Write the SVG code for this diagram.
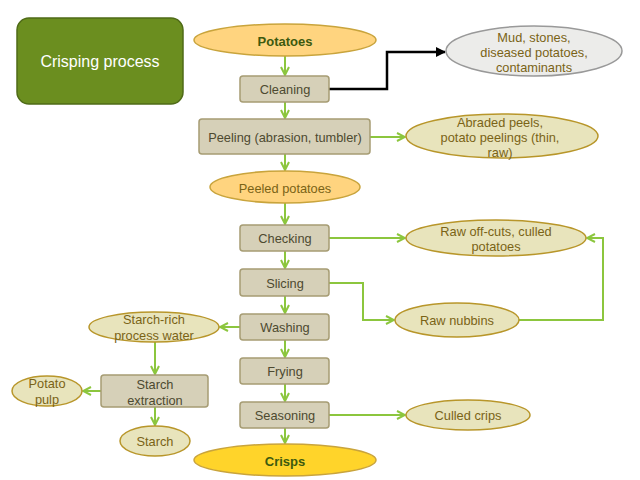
<svg xmlns="http://www.w3.org/2000/svg" width="640" height="480" viewBox="0 0 640 480">
<defs>
<marker id="ag" viewBox="0 0 10 10" refX="9" refY="5" markerWidth="10" markerHeight="10" markerUnits="userSpaceOnUse" orient="auto">
<polyline points="1,1 9,5 1,9" fill="none" stroke="#8cc63e" stroke-width="2"/>
</marker>
<marker id="ab" viewBox="0 0 10 10" refX="9" refY="5" markerWidth="10" markerHeight="10" markerUnits="userSpaceOnUse" orient="auto">
<polygon points="0,0 10,5 0,10" fill="#000"/>
</marker>
</defs>
<style>
text{font-family:"Liberation Sans",Arial,sans-serif;font-size:12.8px;text-anchor:middle;dominant-baseline:central}
.box{fill:#d6d0b8;stroke:#a69c73;stroke-width:1.5}
.bt{fill:#4d4a30}
.out{fill:#e8e4bc;stroke:#b8962a;stroke-width:1.5}
.ot{fill:#7a6316}
.main{fill:#ffd47f;stroke:#c9a43c;stroke-width:1.5}
.mt{fill:#3d5a0f;font-weight:bold;font-size:13px}
.g{fill:none;stroke:#8cc63e;stroke-width:2;marker-end:url(#ag)}
</style>
<g id="title">
<rect x="17" y="18" width="166" height="86" rx="12" fill="#6b8e1f" stroke="#4f6b17" stroke-width="1.5"/>
<text x="100" y="61" fill="#ffffff" style="font-size:16px">Crisping process</text>
</g>
<g id="connectors">
<line class="g" x1="285" y1="56" x2="285" y2="75"/>
<line class="g" x1="285" y1="102" x2="285" y2="118"/>
<line class="g" x1="285" y1="154" x2="285" y2="170"/>
<line class="g" x1="285" y1="203" x2="285" y2="224"/>
<line class="g" x1="285" y1="251" x2="285" y2="268"/>
<line class="g" x1="285" y1="296" x2="285" y2="313"/>
<line class="g" x1="285" y1="340" x2="285" y2="357"/>
<line class="g" x1="285" y1="384" x2="285" y2="401"/>
<line class="g" x1="285" y1="428" x2="285" y2="443"/>
<polyline points="329,89 387,89 387,52 445,52" fill="none" stroke="#000" stroke-width="2.5" marker-end="url(#ab)"/>
<line class="g" x1="370" y1="137" x2="405" y2="137"/>
<line class="g" x1="329" y1="238" x2="405" y2="238"/>
<polyline class="g" points="329,283 363,283 363,320 394,320"/>
<polyline class="g" points="519,320 603,320 603,238 587,238"/>
<line class="g" x1="329" y1="415" x2="405" y2="415"/>
<line class="g" x1="240" y1="327" x2="220" y2="327"/>
<line class="g" x1="155" y1="342" x2="155" y2="374"/>
<line class="g" x1="101" y1="391" x2="83" y2="391"/>
<line class="g" x1="155" y1="407" x2="155" y2="425"/>
</g>
<g id="potatoes">
<ellipse class="main" cx="285" cy="40" rx="91" ry="16"/>
<text class="mt" x="285" y="41">Potatoes</text>
</g>
<g id="cleaning">
<rect class="box" x="240" y="76" width="89" height="26" rx="3"/>
<text class="bt" x="285" y="89">Cleaning</text>
</g>
<g id="peeling">
<rect class="box" x="199" y="119" width="171" height="35" rx="3"/>
<text class="bt" x="285" y="137">Peeling (abrasion, tumbler)</text>
</g>
<g id="peeled">
<ellipse class="main" cx="285" cy="187" rx="75" ry="16"/>
<text class="ot" x="285" y="188">Peeled potatoes</text>
</g>
<g id="checking">
<rect class="box" x="240" y="225" width="89" height="26" rx="3"/>
<text class="bt" x="285" y="238">Checking</text>
</g>
<g id="slicing">
<rect class="box" x="240" y="269" width="89" height="27" rx="3"/>
<text class="bt" x="285" y="283">Slicing</text>
</g>
<g id="washing">
<rect class="box" x="240" y="314" width="89" height="26" rx="3"/>
<text class="bt" x="285" y="327">Washing</text>
</g>
<g id="frying">
<rect class="box" x="240" y="358" width="89" height="26" rx="3"/>
<text class="bt" x="285" y="371">Frying</text>
</g>
<g id="seasoning">
<rect class="box" x="240" y="402" width="89" height="26" rx="3"/>
<text class="bt" x="285" y="415">Seasoning</text>
</g>
<g id="crisps">
<ellipse cx="285" cy="460" rx="91" ry="16" fill="#ffd42a" stroke="#c9a43c" stroke-width="1.5"/>
<text class="mt" x="285" y="461">Crisps</text>
</g>
<g id="mud">
<ellipse cx="534" cy="51" rx="88" ry="25" fill="#ececea" stroke="#999999" stroke-width="1.5"/>
<text class="ot" x="534" y="37">Mud, stones,</text>
<text class="ot" x="534" y="52">diseased potatoes,</text>
<text class="ot" x="534" y="67">contaminants</text>
</g>
<g id="abraded">
<ellipse class="out" cx="502" cy="136" rx="96" ry="22"/>
<text class="ot" x="500" y="122">Abraded peels,</text>
<text class="ot" x="500" y="137">potato peelings (thin,</text>
<text class="ot" x="500" y="152">raw)</text>
</g>
<g id="offcuts">
<ellipse class="out" cx="496" cy="238" rx="90" ry="18"/>
<text class="ot" x="496" y="231">Raw off-cuts, culled</text>
<text class="ot" x="496" y="246">potatoes</text>
</g>
<g id="nubbins">
<ellipse class="out" cx="457" cy="320" rx="62" ry="17"/>
<text class="ot" x="457" y="320">Raw nubbins</text>
</g>
<g id="culled">
<ellipse class="out" cx="468" cy="415" rx="62" ry="15"/>
<text class="ot" x="468" y="415">Culled crips</text>
</g>
<g id="starchwater">
<ellipse class="out" cx="154" cy="327" rx="65" ry="15"/>
<text class="ot" x="154" y="319">Starch-rich</text>
<text class="ot" x="154" y="335">process water</text>
</g>
<g id="extraction">
<rect class="box" x="101" y="375" width="107" height="32" rx="3"/>
<text class="bt" x="155" y="384">Starch</text>
<text class="bt" x="155" y="400">extraction</text>
</g>
<g id="pulp">
<ellipse class="out" cx="47" cy="391" rx="35" ry="15"/>
<text class="ot" x="47" y="383">Potato</text>
<text class="ot" x="47" y="399">pulp</text>
</g>
<g id="starch">
<ellipse class="out" cx="155" cy="441" rx="35" ry="15"/>
<text class="ot" x="155" y="441">Starch</text>
</g>
</svg>
